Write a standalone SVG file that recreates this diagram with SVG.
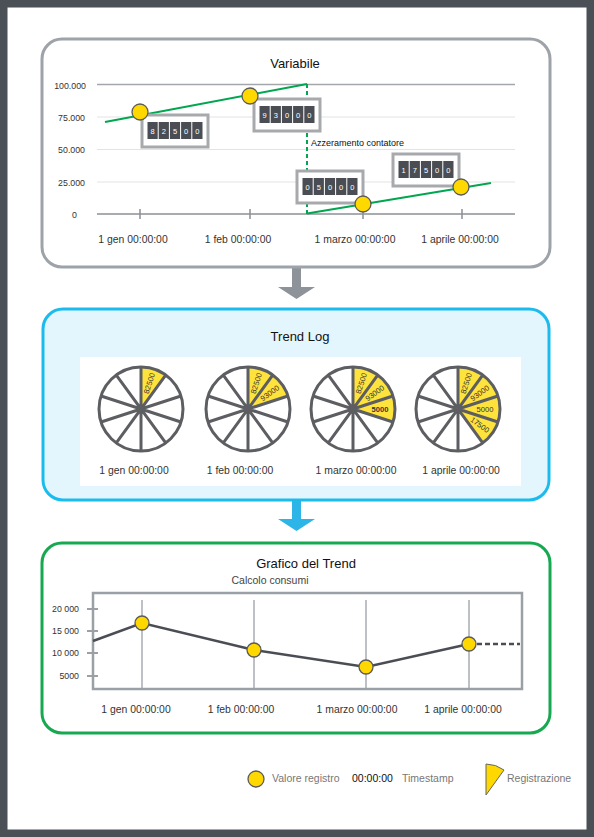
<svg xmlns="http://www.w3.org/2000/svg" width="594" height="837" viewBox="0 0 594 837">
<style>
text{font-family:"Liberation Sans",Arial,sans-serif;}
.title{font-size:13px;fill:#111;text-anchor:middle;}
.xl{font-size:10.4px;fill:#333;text-anchor:middle;}
.yl{font-size:8.8px;fill:#333;text-anchor:end;}
.grid{stroke:#e3e3e3;stroke-width:1;}
.dot{fill:#ffd800;stroke:#5a5a5a;stroke-width:1.3;}
.box{fill:#fff;stroke:#a7a9ac;stroke-width:3;}
.cell{fill:#4a4e54;}
.dg{font-size:7.5px;fill:#fff;text-anchor:middle;}
.wl{stroke:#5d5e62;stroke-width:3;fill:none;}
.sec{fill:#ffe33d;}
.st{font-size:7.6px;fill:#333;text-anchor:middle;}
.leg{font-size:10.5px;fill:#777;}
</style>
<defs>
<g id="spokes">
<circle class="wl" cx="0" cy="0" r="42"/>
<path class="wl" d="M0,-42 L0,42 M24.69,-33.98 L-24.69,33.98 M39.95,-12.98 L-39.95,12.98 M39.95,12.98 L-39.95,-12.98 M24.69,33.98 L-24.69,-33.98"/>
</g>
<path id="s1" class="sec" d="M0,0 L0,-42 A42,42 0 0 1 24.69,-33.98 Z"/>
<path id="s2" class="sec" d="M0,0 L24.69,-33.98 A42,42 0 0 1 39.95,-12.98 Z"/>
<path id="s3" class="sec" d="M0,0 L39.95,-12.98 A42,42 0 0 1 39.95,12.98 Z"/>
<path id="s4" class="sec" d="M0,0 L39.95,12.98 A42,42 0 0 1 24.69,33.98 Z"/>
<g id="cells">
<rect class="box" x="0" y="0" width="66" height="32"/>
<rect class="cell" x="5.5" y="7" width="10.2" height="17"/>
<rect class="cell" x="16.7" y="7" width="10.2" height="17"/>
<rect class="cell" x="27.9" y="7" width="10.2" height="17"/>
<rect class="cell" x="39.1" y="7" width="10.2" height="17"/>
<rect class="cell" x="50.3" y="7" width="10.2" height="17"/>
</g>
</defs>

<rect id="frame" x="3.75" y="3.75" width="586.5" height="829.5" fill="#fff" stroke="#4b5057" stroke-width="7.5"/>

<g id="connectors">
<polygon fill="#8e9399" points="292,268 301,268 301,287 315,287 296.5,299 278,287 292,287"/>
<polygon fill="#2db5e8" points="292,501 301,501 301,519 315,519 296.5,531 278,519 292,519"/>
</g>

<g id="variabile">
<rect x="42" y="39" width="508" height="228" rx="20" fill="#fff" stroke="#9ea3a9" stroke-width="3"/>
<text class="title" x="295" y="68">Variabile</text>
<line x1="97" y1="84.5" x2="515" y2="84.5" stroke="#a3a7ab" stroke-width="1.5"/>
<line class="grid" x1="97" y1="117" x2="515" y2="117"/>
<line class="grid" x1="97" y1="149.5" x2="515" y2="149.5"/>
<line class="grid" x1="97" y1="182" x2="515" y2="182"/>
<line x1="97" y1="214" x2="515" y2="214" stroke="#8a9096" stroke-width="1.5"/>
<path d="M140,209 V219 M250,209 V219 M363,209 V219 M462,209 V219" stroke="#8a9096" stroke-width="1.5"/>
<text class="yl" x="86" y="89">100.000</text>
<text class="yl" x="85" y="121">75.000</text>
<text class="yl" x="85" y="153">50.000</text>
<text class="yl" x="85" y="186">25.000</text>
<text class="yl" x="77" y="218">0</text>
<text class="xl" x="133" y="243">1 gen 00:00:00</text>
<text class="xl" x="238" y="243">1 feb 00:00:00</text>
<text class="xl" x="355" y="243">1 marzo 00:00:00</text>
<text class="xl" x="460" y="243">1 aprile 00:00:00</text>
<line x1="105" y1="122" x2="307" y2="84" stroke="#00a650" stroke-width="2"/>
<line x1="307" y1="84" x2="307" y2="214" stroke="#00a650" stroke-width="2" stroke-dasharray="4,3"/>
<line x1="307" y1="213.5" x2="491" y2="183" stroke="#00a650" stroke-width="2"/>
<g transform="translate(142,115)"><use href="#cells"/><text class="dg" x="10.6" y="18.5">8</text><text class="dg" x="21.8" y="18.5">2</text><text class="dg" x="33" y="18.5">5</text><text class="dg" x="44.2" y="18.5">0</text><text class="dg" x="55.4" y="18.5">0</text></g>
<g transform="translate(254,99)"><use href="#cells"/><text class="dg" x="10.6" y="18.5">9</text><text class="dg" x="21.8" y="18.5">3</text><text class="dg" x="33" y="18.5">0</text><text class="dg" x="44.2" y="18.5">0</text><text class="dg" x="55.4" y="18.5">0</text></g>
<g transform="translate(297,171)"><use href="#cells"/><text class="dg" x="10.6" y="18.5">0</text><text class="dg" x="21.8" y="18.5">5</text><text class="dg" x="33" y="18.5">0</text><text class="dg" x="44.2" y="18.5">0</text><text class="dg" x="55.4" y="18.5">0</text></g>
<g transform="translate(393,154)"><use href="#cells"/><text class="dg" x="10.6" y="18.5">1</text><text class="dg" x="21.8" y="18.5">7</text><text class="dg" x="33" y="18.5">5</text><text class="dg" x="44.2" y="18.5">0</text><text class="dg" x="55.4" y="18.5">0</text></g>
<circle class="dot" cx="140" cy="112" r="8"/>
<circle class="dot" cx="250" cy="96" r="8"/>
<circle class="dot" cx="363" cy="204" r="8"/>
<circle class="dot" cx="461" cy="187" r="8"/>
<text x="311" y="146" font-size="9" fill="#111">Azzeramento contatore</text>
</g>

<g id="trend-log">
<rect x="43" y="309" width="506" height="191" rx="20" fill="#e4f6fd" stroke="#1bbbee" stroke-width="3"/>
<rect x="80" y="357" width="441" height="129" fill="#fff"/>
<text class="title" x="300" y="341">Trend Log</text>
<g transform="translate(141,409)">
<use href="#s1"/><use href="#spokes"/>
<text class="st" transform="translate(8.3,-25.7) rotate(-72)" dy="2.6">82500</text>
</g>
<g transform="translate(248,409)">
<use href="#s1"/><use href="#s2"/><use href="#spokes"/>
<text class="st" transform="translate(8.3,-25.7) rotate(-72)" dy="2.6">82500</text>
<text class="st" transform="translate(21.8,-15.9) rotate(-36)" dy="2.6">93000</text>
</g>
<g transform="translate(353,409)">
<use href="#s1"/><use href="#s2"/><use href="#s3"/><use href="#spokes"/>
<text class="st" transform="translate(8.3,-25.7) rotate(-72)" dy="2.6">82500</text>
<text class="st" transform="translate(21.8,-15.9) rotate(-36)" dy="2.6">93000</text>
<text class="st" transform="translate(27,0)" dy="2.6" fill="#000" font-weight="bold">5000</text>
</g>
<g transform="translate(458,409)">
<use href="#s1"/><use href="#s2"/><use href="#s3"/><use href="#s4"/><use href="#spokes"/>
<text class="st" transform="translate(8.3,-25.7) rotate(-72)" dy="2.6">82500</text>
<text class="st" transform="translate(21.8,-15.9) rotate(-36)" dy="2.6">93000</text>
<text class="st" transform="translate(27,0)" dy="2.6">5000</text>
<text class="st" transform="translate(21.8,15.9) rotate(36)" dy="2.6">17500</text>
</g>
<text class="xl" x="134" y="474">1 gen 00:00:00</text>
<text class="xl" x="240" y="474">1 feb 00:00:00</text>
<text class="xl" x="356" y="474">1 marzo 00:00:00</text>
<text class="xl" x="461" y="474">1 aprile 00:00:00</text>
</g>

<g id="grafico-trend">
<rect x="42" y="543" width="508" height="190" rx="20" fill="#fff" stroke="#16a951" stroke-width="3"/>
<text class="title" x="306" y="568">Grafico del Trend</text>
<text x="270" y="584" font-size="10.5" fill="#444" text-anchor="middle">Calcolo consumi</text>
<path d="M142,600 V689 M254,600 V689 M366,600 V689 M469,600 V689" stroke="#9aa0a6" stroke-width="1.3"/>
<rect x="93" y="593" width="429" height="96" fill="none" stroke="#9aa0a6" stroke-width="2.5"/>
<path d="M87,609 H98 M87,631 H98 M87,653 H98 M87,676 H98" stroke="#9aa0a6" stroke-width="2"/>
<text class="yl" x="79" y="612" font-size="8.5">20 000</text>
<text class="yl" x="79" y="634" font-size="8.5">15 000</text>
<text class="yl" x="79" y="656" font-size="8.5">10 000</text>
<text class="yl" x="79" y="679" font-size="8.5">5000</text>
<polyline points="93,641 142,623 254,650 366,667 469,644" fill="none" stroke="#4a4e54" stroke-width="2.5"/>
<line x1="469" y1="644" x2="520" y2="644" stroke="#4a4e54" stroke-width="2.5" stroke-dasharray="5,3"/>
<circle class="dot" cx="142" cy="623" r="7"/>
<circle class="dot" cx="254" cy="650" r="7"/>
<circle class="dot" cx="366" cy="667" r="7"/>
<circle class="dot" cx="469" cy="644" r="7"/>
<text class="xl" x="136" y="713">1 gen 00:00:00</text>
<text class="xl" x="241" y="713">1 feb 00:00:00</text>
<text class="xl" x="357" y="713">1 marzo 00:00:00</text>
<text class="xl" x="463" y="713">1 aprile 00:00:00</text>
</g>

<g id="legend">
<circle class="dot" cx="256" cy="779" r="8"/>
<text class="leg" x="272" y="782">Valore registro</text>
<text x="352" y="782" font-size="10.5" fill="#111">00:00:00</text>
<text class="leg" x="402" y="782">Timestamp</text>
<path d="M486,795 L486,764 A31,31 0 0 1 504,770 Z" fill="#ffd800" stroke="#666" stroke-width="1"/>
<text class="leg" x="507" y="782">Registrazione</text>
</g>
</svg>
